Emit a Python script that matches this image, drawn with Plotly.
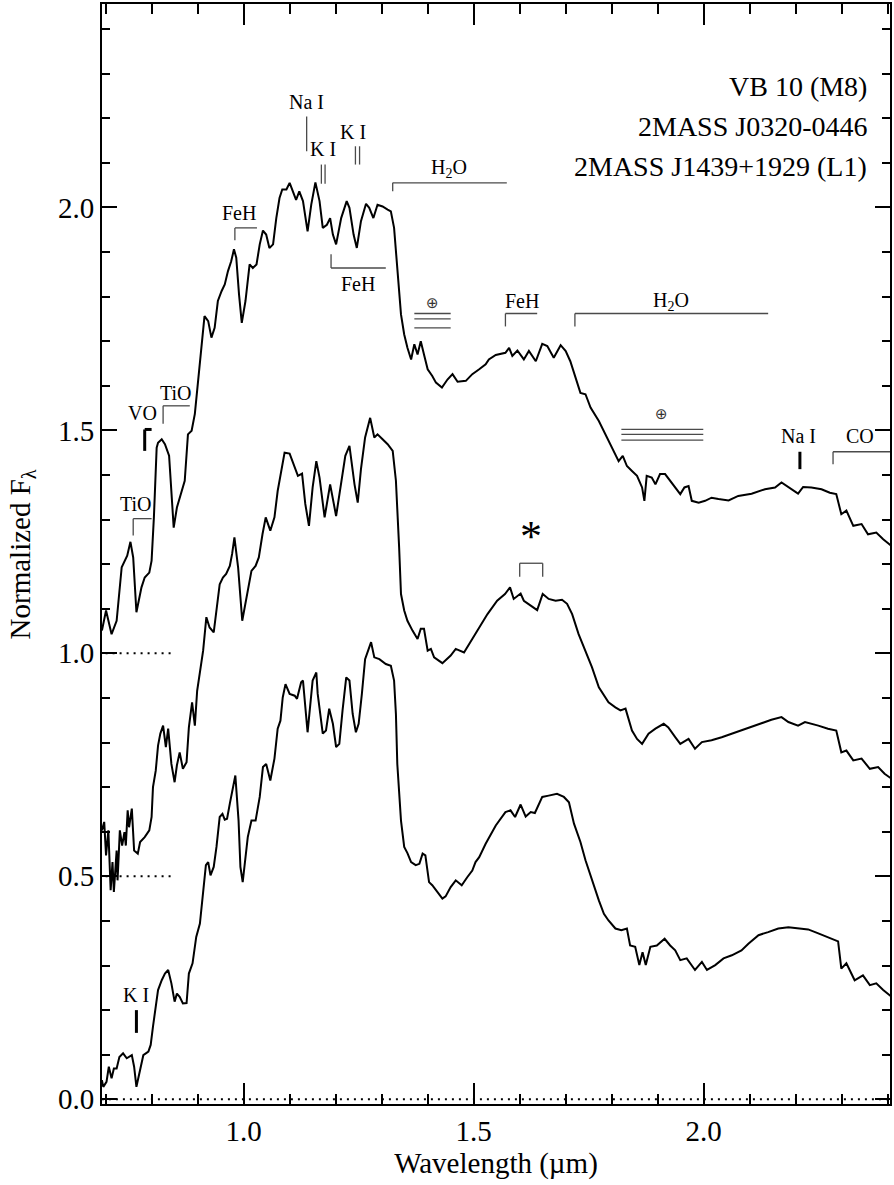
import plotly.graph_objects as go

# ---------------- data (wavelength in micron, normalized flux incl. offsets) -------------
vb10_wave = [0.692,0.701,0.713,0.724,0.735,0.742,0.747,0.754,0.760,0.767,0.778,0.785,0.795,0.800,0.805,0.811,0.814,0.822,0.829,0.838,
             0.848,0.855,0.865,0.872,0.879,0.887,0.894,0.901,0.908,0.915,0.923,0.930,0.937,0.944,0.952,0.959,0.966,0.973,0.979,0.984,
             0.990,0.996,1.004,1.013,1.020,1.028,1.035,1.042,1.049,1.056,1.064,1.071,1.078,1.084,1.093,1.100,1.107,1.114,1.121,1.129,
             1.139,1.147,1.156,1.165,1.172,1.181,1.188,1.194,1.201,1.212,1.224,1.230,1.239,1.246,1.255,1.266,1.273,1.282,1.291,1.302,
             1.313,1.320,1.327,1.334,1.342,1.349,1.356,1.364,1.371,1.378,1.385,1.392,1.400,1.410,1.418,1.431,1.443,1.454,1.465,1.483,
             1.497,1.512,1.526,1.533,1.548,1.569,1.577,1.584,1.595,1.609,1.620,1.635,1.649,1.660,1.674,1.689,1.700,1.710,1.721,1.732,
             1.743,1.754,1.772,1.786,1.801,1.815,1.824,1.833,1.844,1.855,1.866,1.871,1.876,1.887,1.895,1.905,1.916,1.927,1.938,1.949,
             1.958,1.967,1.974,1.989,2.003,2.017,2.032,2.054,2.075,2.104,2.133,2.155,2.169,2.184,2.205,2.216,2.234,2.256,2.274,2.288,
             2.299,2.310,2.325,2.343,2.357,2.375,2.390,2.408]
vb10_flux = [1.051,1.096,1.043,1.073,1.193,1.208,1.219,1.250,1.215,1.092,1.148,1.170,1.181,1.208,1.305,1.461,1.472,1.480,1.469,1.443,
             1.282,1.327,1.364,1.387,1.491,1.499,1.537,1.607,1.678,1.756,1.745,1.708,1.730,1.790,1.812,1.827,1.857,1.879,1.906,1.887,
             1.805,1.741,1.790,1.872,1.864,1.872,1.917,1.948,1.939,1.909,1.917,1.976,2.021,2.040,2.040,2.055,2.036,2.017,2.036,2.014,
             1.946,2.006,2.056,2.014,1.954,1.961,1.976,1.939,1.917,1.976,2.014,1.999,1.939,1.909,1.969,2.008,1.999,1.976,2.006,2.002,
             1.995,1.991,1.954,1.864,1.760,1.715,1.685,1.659,1.693,1.670,1.700,1.670,1.637,1.622,1.607,1.596,1.614,1.626,1.609,1.611,
             1.626,1.637,1.648,1.659,1.669,1.674,1.685,1.667,1.679,1.659,1.678,1.655,1.694,1.689,1.663,1.691,1.678,1.655,1.618,1.584,
             1.581,1.551,1.521,1.491,1.461,1.431,1.443,1.420,1.409,1.398,1.372,1.342,1.398,1.394,1.379,1.402,1.402,1.387,1.372,1.357,
             1.372,1.375,1.342,1.338,1.342,1.349,1.346,1.343,1.353,1.358,1.368,1.372,1.383,1.373,1.358,1.373,1.372,1.368,1.360,1.357,
             1.312,1.320,1.286,1.290,1.267,1.271,1.256,1.241]

j0320_wave = [0.692,0.697,0.701,0.706,0.711,0.715,0.718,0.724,0.726,0.731,0.736,0.741,0.744,0.748,0.751,0.757,0.762,0.770,0.775,0.785,
              0.795,0.800,0.803,0.809,0.814,0.819,0.825,0.831,0.836,0.843,0.850,0.855,0.861,0.868,0.876,0.881,0.888,0.894,0.899,0.905,
              0.912,0.919,0.926,0.935,0.941,0.948,0.955,0.962,0.970,0.975,0.980,0.988,0.997,1.006,1.017,1.026,1.033,1.041,1.048,1.058,
              1.067,1.074,1.082,1.089,1.100,1.108,1.118,1.127,1.134,1.142,1.150,1.158,1.165,1.176,1.188,1.201,1.212,1.221,1.230,1.241,
              1.248,1.255,1.264,1.275,1.284,1.291,1.302,1.313,1.324,1.331,1.338,1.342,1.349,1.356,1.367,1.378,1.385,1.392,1.400,1.407,
              1.414,1.432,1.450,1.461,1.479,1.494,1.512,1.530,1.551,1.568,1.579,1.587,1.602,1.609,1.624,1.638,1.650,1.663,1.678,1.692,
              1.703,1.714,1.728,1.743,1.757,1.772,1.779,1.793,1.808,1.819,1.830,1.837,1.844,1.855,1.866,1.880,1.895,1.913,1.923,1.938,
              1.949,1.967,1.981,1.996,2.017,2.039,2.061,2.090,2.119,2.147,2.169,2.184,2.205,2.220,2.249,2.270,2.288,2.299,2.310,2.325,
              2.343,2.361,2.379,2.393,2.408]
j0320_flux = [0.603,0.622,0.547,0.603,0.469,0.532,0.465,0.558,0.491,0.603,0.569,0.599,0.569,0.648,0.610,0.652,0.558,0.551,0.577,0.588,
              0.603,0.633,0.700,0.737,0.793,0.820,0.838,0.790,0.831,0.752,0.711,0.749,0.778,0.741,0.756,0.834,0.890,0.838,0.916,0.954,
              1.006,1.081,1.058,1.047,1.103,1.155,1.170,1.178,1.196,1.223,1.260,1.193,1.073,1.125,1.185,1.196,1.215,1.267,1.305,1.275,
              1.305,1.364,1.409,1.450,1.448,1.424,1.398,1.403,1.335,1.286,1.372,1.431,1.394,1.305,1.379,1.308,1.379,1.443,1.465,1.379,
              1.338,1.413,1.484,1.528,1.484,1.491,1.480,1.469,1.454,1.387,1.237,1.133,1.096,1.073,1.051,1.032,1.055,1.055,1.006,1.010,
              0.991,0.978,0.995,1.010,1.002,1.028,1.058,1.088,1.118,1.133,1.148,1.122,1.134,1.118,1.107,1.097,1.133,1.122,1.118,1.120,
              1.111,1.088,1.043,1.006,0.969,0.924,0.913,0.890,0.879,0.872,0.876,0.849,0.827,0.808,0.797,0.820,0.831,0.842,0.834,0.812,
              0.797,0.808,0.786,0.801,0.805,0.812,0.820,0.831,0.842,0.851,0.857,0.846,0.838,0.846,0.838,0.831,0.827,0.778,0.782,0.760,
              0.764,0.741,0.745,0.730,0.719]

j1439_wave = [0.692,0.695,0.702,0.707,0.713,0.718,0.724,0.730,0.738,0.746,0.757,0.762,0.767,0.775,0.782,0.793,0.798,0.803,0.814,0.822,
              0.829,0.836,0.843,0.850,0.855,0.861,0.868,0.876,0.881,0.889,0.897,0.905,0.912,0.918,0.923,0.928,0.935,0.941,0.948,0.954,
              0.959,0.964,0.970,0.976,0.982,0.989,0.993,0.998,1.004,1.009,1.017,1.026,1.035,1.042,1.049,1.058,1.067,1.074,1.080,1.085,
              1.091,1.100,1.111,1.116,1.125,1.129,1.139,1.150,1.158,1.161,1.172,1.179,1.186,1.194,1.201,1.208,1.215,1.223,1.230,1.237,
              1.244,1.250,1.257,1.264,1.277,1.284,1.295,1.309,1.320,1.327,1.331,1.334,1.342,1.349,1.356,1.364,1.374,1.382,1.389,1.395,
              1.403,1.410,1.421,1.432,1.439,1.450,1.461,1.474,1.486,1.497,1.504,1.512,1.526,1.548,1.569,1.580,1.590,1.602,1.613,1.624,
              1.633,1.649,1.663,1.681,1.696,1.707,1.718,1.732,1.743,1.757,1.772,1.783,1.793,1.808,1.821,1.833,1.840,1.851,1.860,1.867,
              1.874,1.884,1.898,1.915,1.927,1.938,1.949,1.963,1.981,1.996,2.007,2.025,2.043,2.061,2.082,2.097,2.119,2.140,2.162,2.184,
              2.205,2.227,2.249,2.267,2.285,2.292,2.299,2.310,2.328,2.346,2.361,2.375,2.390,2.408]
j1439_flux = [0.043,0.028,0.039,0.073,0.047,0.069,0.069,0.095,0.103,0.092,0.099,0.073,0.028,0.066,0.099,0.107,0.122,0.163,0.245,0.267,
              0.282,0.290,0.260,0.219,0.237,0.230,0.215,0.216,0.282,0.305,0.364,0.394,0.461,0.525,0.532,0.502,0.521,0.566,0.633,0.640,
              0.627,0.629,0.663,0.693,0.726,0.625,0.521,0.487,0.551,0.588,0.625,0.625,0.678,0.745,0.752,0.715,0.764,0.831,0.849,0.901,
              0.931,0.909,0.905,0.898,0.935,0.939,0.823,0.939,0.957,0.909,0.820,0.827,0.876,0.842,0.790,0.797,0.872,0.946,0.939,0.864,
              0.823,0.842,0.909,0.987,1.025,0.991,0.987,0.976,0.972,0.939,0.864,0.752,0.625,0.566,0.552,0.532,0.525,0.528,0.551,0.547,
              0.487,0.480,0.465,0.450,0.455,0.476,0.491,0.480,0.498,0.513,0.532,0.543,0.573,0.614,0.644,0.648,0.633,0.661,0.634,0.644,
              0.642,0.678,0.681,0.685,0.678,0.666,0.618,0.577,0.536,0.491,0.446,0.416,0.401,0.383,0.379,0.383,0.345,0.342,0.301,0.330,
              0.301,0.342,0.345,0.360,0.345,0.334,0.312,0.316,0.290,0.308,0.290,0.301,0.316,0.323,0.334,0.349,0.368,0.375,0.383,0.386,
              0.383,0.381,0.372,0.364,0.357,0.354,0.293,0.305,0.267,0.278,0.256,0.260,0.245,0.230]

star_names = ["VB 10 (M8)", "2MASS J0320-0446", "2MASS J1439+1929 (L1)"]
zero_levels = [1.0, 0.5, 0.0]

x_ticks = [1.0, 1.5, 2.0]
y_ticks = [0.0, 0.5, 1.0, 1.5, 2.0]

# feature labels: (text, x, y, size)
feature_text = [
    ("Na I", 1.136, 2.236, 20), ("K I", 1.172, 2.130, 20), ("K I", 1.237, 2.168, 20),
    ("FeH", 0.991, 1.987, 20), ("FeH", 1.248, 1.828, 20), ("H<sub>2</sub>O", 1.447, 2.087, 20),
    ("FeH", 1.605, 1.790, 20), ("H<sub>2</sub>O", 1.929, 1.790, 20), ("Na I", 2.205, 1.487, 20),
    ("CO", 2.339, 1.487, 20), ("TiO", 0.854, 1.584, 20), ("VO", 0.780, 1.538, 20),
    ("TiO", 0.767, 1.335, 20), ("K I", 0.767, 0.233, 20),
]
# bracket segments (x0, y0, x1, y1)
bracket_segments = [
    (1.137, 2.126, 1.137, 2.204),                                   # Na I
    (1.169, 2.053, 1.169, 2.096), (1.177, 2.053, 1.177, 2.096),     # K I
    (1.243, 2.096, 1.243, 2.137), (1.252, 2.096, 1.252, 2.137),     # K I
    (0.981, 1.954, 1.029, 1.954), (0.981, 1.954, 0.981, 1.926),     # FeH
    (1.190, 1.895, 1.190, 1.864), (1.190, 1.864, 1.309, 1.864),     # FeH
    (1.324, 2.055, 1.572, 2.055), (1.324, 2.055, 1.324, 2.036),     # H2O
    (1.569, 1.762, 1.638, 1.762), (1.569, 1.762, 1.569, 1.733),     # FeH
    (1.720, 1.762, 2.140, 1.762), (1.720, 1.762, 1.720, 1.733),     # H2O
    (2.281, 1.452, 2.405, 1.452), (2.281, 1.452, 2.281, 1.424),     # CO
    (0.825, 1.555, 0.883, 1.555), (0.825, 1.555, 0.825, 1.515),     # TiO
    (0.760, 1.302, 0.800, 1.302), (0.760, 1.302, 0.760, 1.264),     # TiO
    (1.600, 1.202, 1.650, 1.202), (1.600, 1.202, 1.600, 1.172), (1.650, 1.202, 1.650, 1.172),  # *
]
thick_segments = [
    (0.785, 1.502, 0.800, 1.502), (0.785, 1.502, 0.785, 1.454),     # VO
    (2.209, 1.413, 2.209, 1.452),                                   # Na I
    (0.767, 0.149, 0.767, 0.200),                                   # K I
]
# telluric markers: (x0, x1, y levels, symbol x, symbol y)
telluric = [
    (1.371, 1.450, [1.762, 1.750, 1.730], 1.410, 1.786),
    (1.821, 1.999, [1.502, 1.491, 1.478], 1.909, 1.536),
]

FONT = "Liberation Serif, Times New Roman, serif"

fig = go.Figure()

# dotted zero levels
fig.add_trace(go.Scatter(x=[0.692, 2.405], y=[0.0, 0.0], mode="lines",
                         line=dict(color="black", width=2, dash="2px,5px"), hoverinfo="skip"))
for lvl in zero_levels[:2]:
    fig.add_trace(go.Scatter(x=[0.70, 0.846], y=[lvl, lvl], mode="lines",
                             line=dict(color="black", width=2, dash="2px,5px"), hoverinfo="skip"))

for w, f, name in [(vb10_wave, vb10_flux, star_names[0]),
                   (j0320_wave, j0320_flux, star_names[1]),
                   (j1439_wave, j1439_flux, star_names[2])]:
    fig.add_trace(go.Scatter(x=w, y=f, mode="lines", name=name,
                             line=dict(color="black", width=2)))

shapes = []
for x0, y0, x1, y1 in bracket_segments:
    shapes.append(dict(type="line", xref="x", yref="y", x0=x0, y0=y0, x1=x1, y1=y1,
                       line=dict(color="#4a4a4a", width=1.3)))
for x0, y0, x1, y1 in thick_segments:
    shapes.append(dict(type="line", xref="x", yref="y", x0=x0, y0=y0, x1=x1, y1=y1,
                       line=dict(color="black", width=3)))
anns = []
for x0, x1, levels, sx, sy in telluric:
    for lv in levels:
        shapes.append(dict(type="line", xref="x", yref="y", x0=x0, y0=lv, x1=x1, y1=lv,
                           line=dict(color="#4a4a4a", width=1.3)))
    anns.append(dict(x=sx, y=sy, xref="x", yref="y", text="⊕", showarrow=False,
                     font=dict(family="DejaVu Sans", size=15, color="#333")))

for t, x, y, s in feature_text:
    anns.append(dict(x=x, y=y, xref="x", yref="y", text=t, showarrow=False,
                     font=dict(family=FONT, size=s, color="black")))

anns.append(dict(x=1.625, y=1.262, xref="x", yref="y", text="*", showarrow=False,
                 font=dict(family=FONT, size=44, color="black")))

legend_y = [2.271, 2.182, 2.092]
for name, y in zip(star_names, legend_y):
    anns.append(dict(x=2.360, y=y, xref="x", yref="y", text=name, showarrow=False,
                     xanchor="right", yanchor="middle",
                     font=dict(family=FONT, size=28, color="black")))

# y-axis title as rotated annotation (placed further left than plotly's auto position)
anns.append(dict(x=-0.101, y=0.5, xref="paper", yref="paper", text="Normalized F<sub>λ</sub>",
                 textangle=-90, showarrow=False, xanchor="center", yanchor="middle",
                 font=dict(family=FONT, size=29, color="black")))

fig.update_layout(
    width=894, height=1185,
    margin=dict(l=102, r=2, t=2, b=81),
    paper_bgcolor="white", plot_bgcolor="white",
    showlegend=False,
    shapes=shapes, annotations=anns,
    font=dict(family=FONT, size=29, color="black"),
)
fig.update_xaxes(
    range=[0.6922, 2.4048], tickvals=x_ticks, ticktext=[f"{v:.1f}" for v in x_ticks],
    ticks="inside", ticklen=21, tickwidth=1.5, tickcolor="black",
    minor=dict(dtick=0.1, tick0=0.0, ticks="inside", ticklen=10, tickwidth=1.5, tickcolor="black"),
    showline=True, linewidth=2, linecolor="black", mirror="ticks",
    showgrid=False, zeroline=False,
    title=dict(text="Wavelength (µm)", font=dict(size=29), standoff=0),
    tickfont=dict(size=29),
)
fig.update_yaxes(
    range=[-0.0105, 2.456], tickvals=y_ticks, ticktext=[f"{v:.1f}" for v in y_ticks],
    ticks="inside", ticklen=15, tickwidth=1.5, tickcolor="black",
    minor=dict(dtick=0.1, tick0=0.0, ticks="inside", ticklen=8, tickwidth=1.5, tickcolor="black"),
    showline=True, linewidth=2, linecolor="black", mirror="ticks",
    showgrid=False, zeroline=False,
    tickfont=dict(size=29),
)

fig.write_html("out.html", config={"displayModeBar": False},
               post_script="document.body.style.margin='0';document.body.style.overflow='hidden';")
